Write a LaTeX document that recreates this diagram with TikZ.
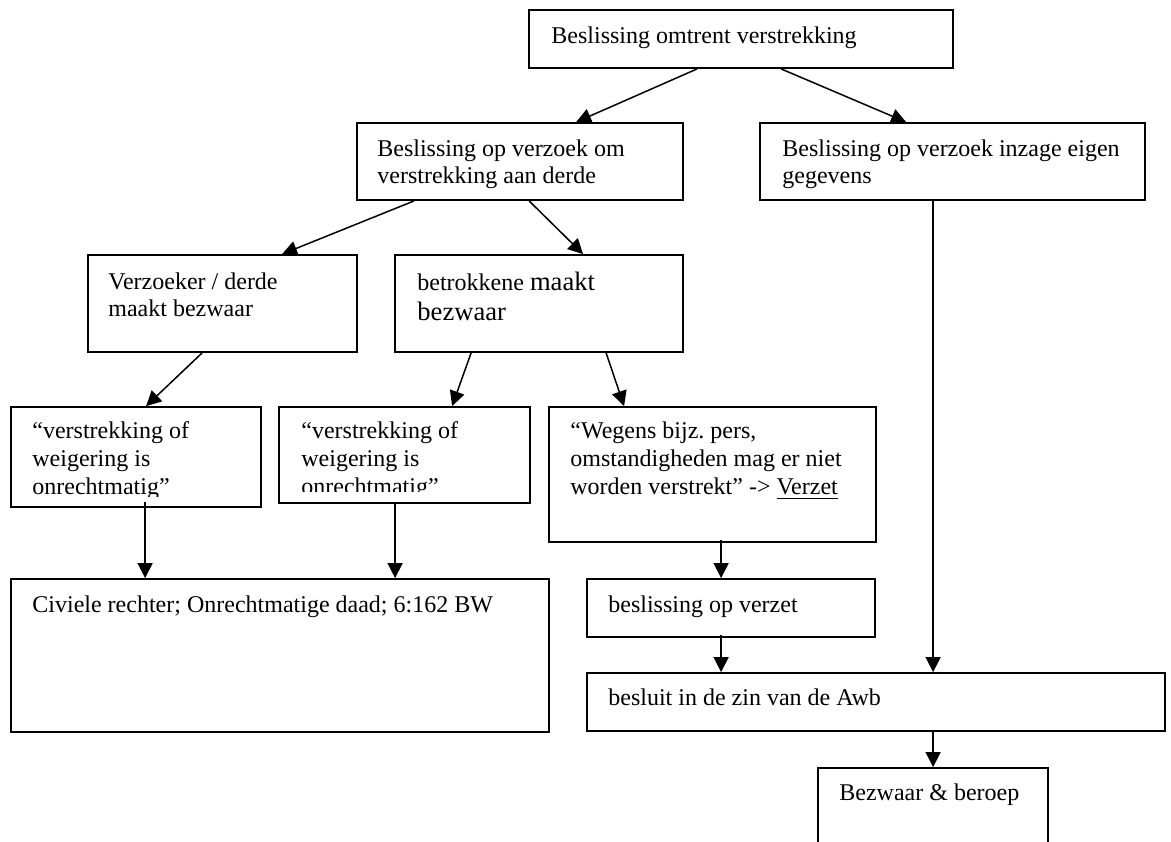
\documentclass[tikz,border=0pt]{standalone}
\usepackage{fontspec}
\setmainfont{Liberation Serif}
\usetikzlibrary{arrows.meta,calc,fit}
\newcommand\mlines[1]{\vtop{\halign{##\hfil\cr#1\crcr}}}
\frenchspacing
\begin{document}
\begin{tikzpicture}[x=0.5pt,y=-0.5pt,
  box/.style={draw, line width=0.9pt, inner sep=0pt, rectangle},
  txt/.style={anchor=base west, inner sep=0pt, font=\fontsize{12pt}{13.8pt}\selectfont},
  txtb/.style={txt, font=\fontsize{12pt}{14.2pt}\selectfont},
  conn/.style={line width=0.75pt, -{Triangle[length=7.5pt,width=7.5pt]}}]
\clip (0,0) rectangle (1171,841);
\fill[white] (0,0) rectangle (1171,841);
% boxes
\node[box, fit={(529,10)(953,68)}] (T) {};
\node[box, fit={(357,123)(683,200)}] (A) {};
\node[box, fit={(760,123)(1145,200)}] (B) {};
\node[box, fit={(88,255)(357,352)}] (C) {};
\node[box, fit={(395,255)(683,352)}] (D) {};
\node[box, fit={(11,407)(261,507)}] (E) {};
\node[box, fit={(279,407)(530,503)}] (F) {};
\node[box, fit={(549,407)(876,542)}] (G) {};
\node[box, fit={(11,579)(549,732)}] (Civ) {};
\node[box, fit={(587,579)(875,637)}] (V) {};
\node[box, fit={(587,673)(1165,731)}] (Awb) {};
\node[box, fit={(818,768)(1048,900)}] (Bez) {};
% texts
\node[txt] (Tt) at (551,43) {Beslissing omtrent verstrekking};
\node[txt] (At) at (377,156) {\mlines{Beslissing op verzoek om\cr verstrekking aan derde}};
\node[txt] (Bt) at (782,156) {\mlines{Beslissing op verzoek inzage eigen\cr gegevens}};
\node[txt] (Ct) at (108,289) {\mlines{Verzoeker / derde\cr maakt bezwaar}};
\node[txt, font=\fontsize{12pt}{15pt}\selectfont] (Dt) at (417,290) {\mlines{betrokkene {\fontsize{13.3pt}{15pt}\selectfont maakt}\cr {\fontsize{13.3pt}{15pt}\selectfont bezwaar}}};
\begin{scope}
\clip (0,400) rectangle (270,496);
\node[txtb] (Et) at (32,438) {\mlines{“verstrekking of\cr weigering is\cr onrechtmatig”}};
\end{scope}
\begin{scope}
\clip (270,400) rectangle (540,491.5);
\node[txtb] (Ft) at (301,438) {\mlines{“verstrekking of\cr weigering is\cr onrechtmatig”}};
\end{scope}
\node[txtb] (Gt) at (570,438) {\mlines{“Wegens bijz.\ pers,\cr omstandigheden mag er niet\cr worden verstrekt” -> \underline{Verzet}}};
\node[txt] (Civt) at (32,612) {Civiele rechter; Onrechtmatige daad; 6:162 BW};
\node[txt] (Vt) at (608,612) {beslissing op verzet};
\node[txt] (Awbt) at (608,705) {besluit in de zin van de Awb};
\node[txt] (Bezt) at (839,800) {Bezwaar \& beroep};
% connectors
\draw[conn] ($(T.south west)+(169,0)$) -- ($(A.north west)+(220,0)$);
\draw[conn] ($(T.south west)+(253,0)$) -- ($(B.north west)+(147,0)$);
\draw[conn] ($(A.south west)+(58,0)$) -- ($(C.north west)+(195,0)$);
\draw[conn] ($(A.south west)+(173,0)$) -- ($(D.north west)+(189,0)$);
\draw[conn] ($(C.south west)+(115,0)$) -- ($(E.north west)+(136,0)$);
\draw[conn] ($(D.south west)+(77,0)$) -- ($(F.north west)+(174,0)$);
\draw[conn] ($(D.south west)+(212,0)$) -- ($(G.north west)+(76,0)$);
\draw[conn] ($(E.south west)+(135,-6)$) -- ($(Civ.north west)+(135,0)$);
\draw[conn] ($(F.south west)+(117,-2)$) -- ($(Civ.north west)+(385,0)$);
\draw[conn] ($(G.south west)+(173,-3)$) -- ($(V.north west)+(135,0)$);
\draw[conn] ($(V.south west)+(135,-3)$) -- ($(Awb.north west)+(135,0)$);
\draw[conn] ($(B.south west)+(174,0)$) -- ($(Awb.north west)+(347,0)$);
\draw[conn] ($(Awb.south west)+(347,0)$) -- ($(Bez.north west)+(116,0)$);
\end{tikzpicture}
\end{document}
